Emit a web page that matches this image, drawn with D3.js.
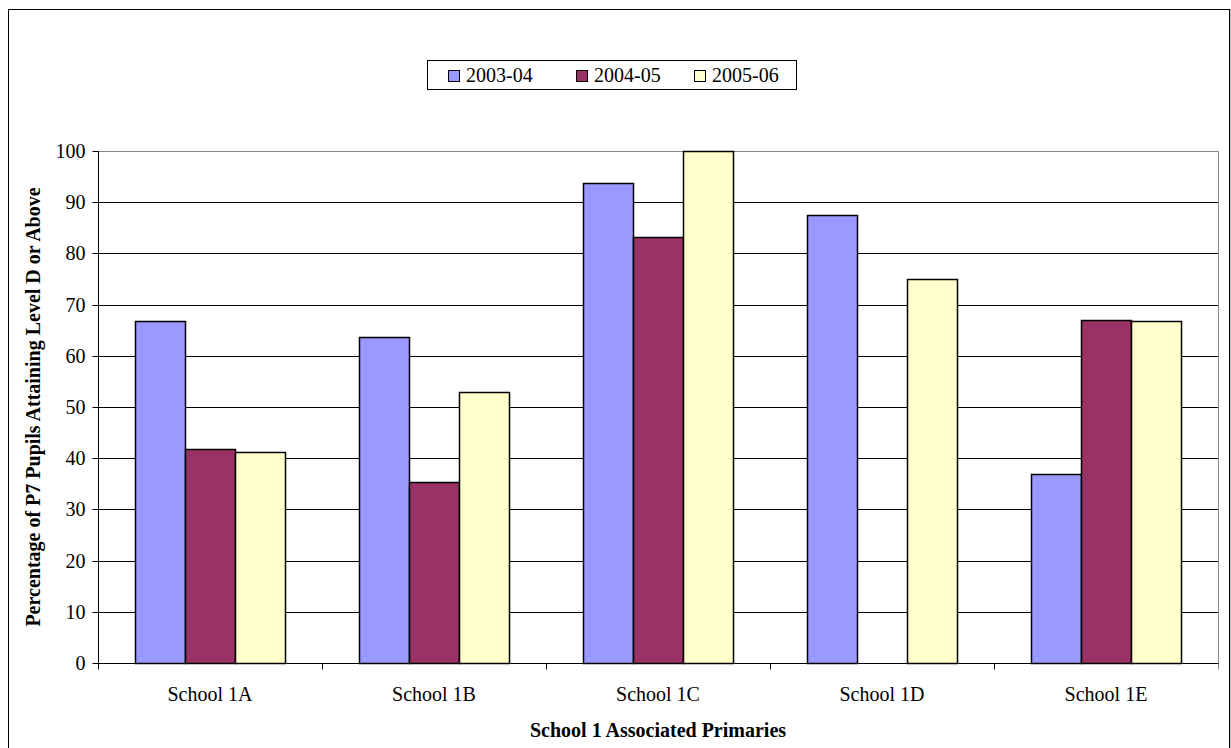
<!DOCTYPE html>
<html><head><meta charset="utf-8">
<script src="https://cdn.jsdelivr.net/npm/d3@7"></script>
<style>body{margin:0;background:#fff}svg{display:block}text{font-family:"Liberation Serif","Times New Roman",serif;fill:#000}</style>
</head><body>
<svg id="c" width="1231" height="748"></svg>
<script>
const categories = ["School 1A","School 1B","School 1C","School 1D","School 1E"];
const seriesNames = ["2003-04","2004-05","2005-06"];
const values2003 = [66.7, 63.6, 93.8, 87.5, 37.0];
const values2004 = [41.7, 35.3, 83.3, 0, 66.9];
const values2005 = [41.2, 52.9, 100, 75.0, 66.7];
const colors = ["#9999ff","#993366","#ffffcc"];
const yTicks = [0,10,20,30,40,50,60,70,80,90,100];

const series = [values2003, values2004, values2005];
const svg = d3.select("#c");
const L = 98, R = 1218, T = 151, B = 663;

// outer frame
svg.append("rect").attr("x",8.5).attr("y",9.5).attr("width",1221).attr("height",760)
  .attr("fill","#fff").attr("stroke","#000").attr("stroke-width",1);
svg.append("line").attr("x1",1230.5).attr("x2",1230.5).attr("y1",9).attr("y2",748).attr("stroke","#bbb");

const x0 = d3.scaleBand().domain(categories).range([L,R]).paddingInner(0).paddingOuter(0);
const x1 = d3.scaleBand().domain(seriesNames).range([0,x0.bandwidth()]).paddingInner(0).paddingOuter(0.74);
const y = d3.scaleLinear().domain([0,100]).range([B,T]);

// gridlines
svg.append("g").selectAll("line").data(yTicks.filter(d=>d>0)).join("line")
  .attr("x1",L).attr("x2",R).attr("y1",d=>Math.round(y(d))+0.5).attr("y2",d=>Math.round(y(d))+0.5)
  .attr("stroke",d=>d===100?"#888":"#000").attr("stroke-width",1);
// plot right border
svg.append("line").attr("x1",R+0.5).attr("x2",R+0.5).attr("y1",T).attr("y2",B).attr("stroke","#888");

// bars
const g = svg.append("g");
categories.forEach((c,i)=>{
  series.forEach((s,j)=>{
    const v = s[i];
    if(!v) return;
    g.append("rect")
      .attr("x",x0(c)+x1(seriesNames[j])+0.5)
      .attr("y",Math.round(y(v))+0.5)
      .attr("width",x1.bandwidth())
      .attr("height",Math.round(y(0))-Math.round(y(v)))
      .attr("fill",colors[j]).attr("stroke","#000").attr("stroke-width",1.5);
  });
});

// y axis
const ya = d3.axisLeft(y).tickValues(yTicks).tickSize(6).tickPadding(7);
const yg = svg.append("g").attr("transform",`translate(${L+0.5},0)`).call(ya);
yg.select(".domain").attr("d",`M-0,${T}V${B+0.5}`).attr("stroke","#000");
yg.selectAll(".tick line").attr("stroke","#000");
yg.selectAll(".tick text").style("font-size","20px").style("font-family","Liberation Serif");
yg.selectAll(".tick").attr("transform",d=>`translate(0,${Math.round(y(d))+0.5})`);

// x axis
const xg = svg.append("g").attr("transform",`translate(0,${B+0.5})`);
xg.append("line").attr("x1",L).attr("x2",R+1).attr("y1",0).attr("y2",0).attr("stroke","#000");
const bounds = categories.map(c=>x0(c)).concat([R]);
xg.selectAll("line.t").data(bounds).join("line").attr("class","t")
  .attr("x1",d=>d+0.5).attr("x2",d=>d+0.5).attr("y1",0).attr("y2",6).attr("stroke",(d,i)=>i===bounds.length-1?"#888":"#000");
xg.selectAll("text").data(categories).join("text")
  .attr("x",d=>x0(d)+x0.bandwidth()/2).attr("y",37).attr("text-anchor","middle")
  .style("font-size","20px").text(d=>d);

// axis titles
svg.append("text").attr("x",658).attr("y",737).attr("text-anchor","middle")
  .style("font-size","20px").style("font-weight","bold").text("School 1 Associated Primaries");
svg.append("text").attr("transform",`translate(40,407) rotate(-90)`).attr("text-anchor","middle")
  .style("font-size","20px").style("font-weight","bold").text("Percentage of P7 Pupils Attaining Level D or Above");

// legend
const lg = svg.append("g");
lg.append("rect").attr("x",427.5).attr("y",60.5).attr("width",369).attr("height",29).attr("fill","#fff").attr("stroke","#000");
const lx = [448,576,694];
seriesNames.forEach((n,j)=>{
  lg.append("rect").attr("x",lx[j]+0.5).attr("y",70.5).attr("width",11).attr("height",11)
    .attr("fill",colors[j]).attr("stroke","#000");
  lg.append("text").attr("x",lx[j]+18).attr("y",82).style("font-size","20px").text(n);
});
</script>
</body></html>
